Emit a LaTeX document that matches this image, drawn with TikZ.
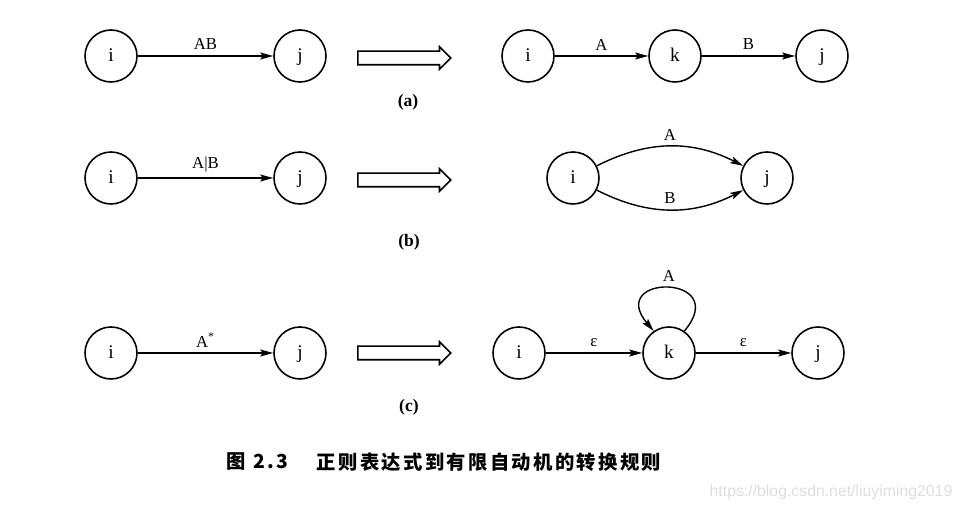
\documentclass[tikz,border=0pt]{standalone}
\usepackage{fontspec}
\setmainfont{Liberation Serif}
\newfontfamily\cjk[LetterSpace=12]{Noto Sans CJK SC}
\newfontfamily\urlfont{Liberation Sans}
\usepackage{tikz}
\usetikzlibrary{shapes.arrows,arrows.meta,positioning}
\definecolor{markgray}{RGB}{222,222,222}

\begin{document}
\begin{tikzpicture}[
  state/.style={circle, draw, line width=0.9pt, minimum size=1.04cm,
                inner sep=0pt, text height=1.6ex, text depth=0.3ex,
                font=\fontsize{11}{13}\selectfont},
  edge/.style={-{Stealth[length=2.6mm,width=1.4mm,inset=0.5mm]},
               line width=0.8pt},
  lab/.style={above=2pt, inner sep=1pt, font=\fontsize{9.5}{11}\selectfont},
  fatarrow/.style={single arrow, draw, line width=0.9pt, anchor=tail,
                   minimum height=1.86cm, minimum width=0.44cm,
                   single arrow head extend=0.09cm,
                   inner xsep=0pt, inner ysep=0.12cm},
  tag/.style={font=\fontsize{10}{12}\selectfont\bfseries}
]
  \useasboundingbox (0,0) rectangle (19.24,10.22);

  % (a) concatenation
  \node[state] (ai) at (2.22,9.10) {i};
  \node[state] (aj) at (6.00,9.10) {j};
  \draw[edge] (ai) -- node[lab] {AB} (aj);
  \node[fatarrow] (ta) at (7.14,9.06) {};
  \node[tag] (la) at (8.16,8.18) {(a)};
  \node[state] (ari) at (10.56,9.10) {i};
  \node[state] (ark) at (13.50,9.10) {k};
  \node[state] (arj) at (16.44,9.10) {j};
  \draw[edge] (ari) -- node[lab] {A} (ark);
  \draw[edge] (ark) -- node[lab] {B} (arj);

  % (b) union
  \node[state] (bi) at (2.22,6.66) {i};
  \node[state] (bj) at (6.00,6.66) {j};
  \draw[edge] (bi) -- node[lab] {A|B} (bj);
  \node[fatarrow] (tb) at (7.14,6.62) {};
  \node[tag] (lb) at (8.18,5.38) {(b)};
  \node[state] (bri) at (11.46,6.66) {i};
  \node[state] (brj) at (15.34,6.66) {j};
  \draw[edge] (bri) to[bend left=27] node[lab] {A} (brj);
  \draw[edge] (bri) to[bend right=27] node[lab] {B} (brj);

  % (c) closure
  \node[state] (ci) at (2.22,3.16) {i};
  \node[state] (cj) at (6.00,3.16) {j};
  \draw[edge] (ci) -- node[lab] {A\textsuperscript{*}} (cj);
  \node[fatarrow] (tc) at (7.14,3.16) {};
  \node[tag] (lc) at (8.18,2.08) {(c)};
  \node[state] (cri) at (10.38,3.16) {i};
  \node[state] (crk) at (13.38,3.16) {k};
  \node[state] (crj) at (16.36,3.16) {j};
  \draw[edge] (cri) -- node[lab] {ε} (crk);
  \draw[edge] (crk) -- node[lab] {ε} (crj);
  \draw[edge] (crk.55) .. controls +(50:1.5) and +(130:1.5) ..
    node[lab, pos=0.5] {A} (crk.125);

  % caption
  \node (capnum) at (5.15,0.98) {\cjk\fontsize{11}{13}\selectfont\bfseries 图 2.3};
  \node (captext) at (9.78,0.98)
    {\cjk\fontsize{11}{13}\selectfont\bfseries 正则表达式到有限自动机的转换规则};
  \node[font=\urlfont\fontsize{9}{11}\selectfont, text=markgray] (url)
    at (16.62,0.38) {https://blog.csdn.net/liuyiming2019};
\end{tikzpicture}
\end{document}
